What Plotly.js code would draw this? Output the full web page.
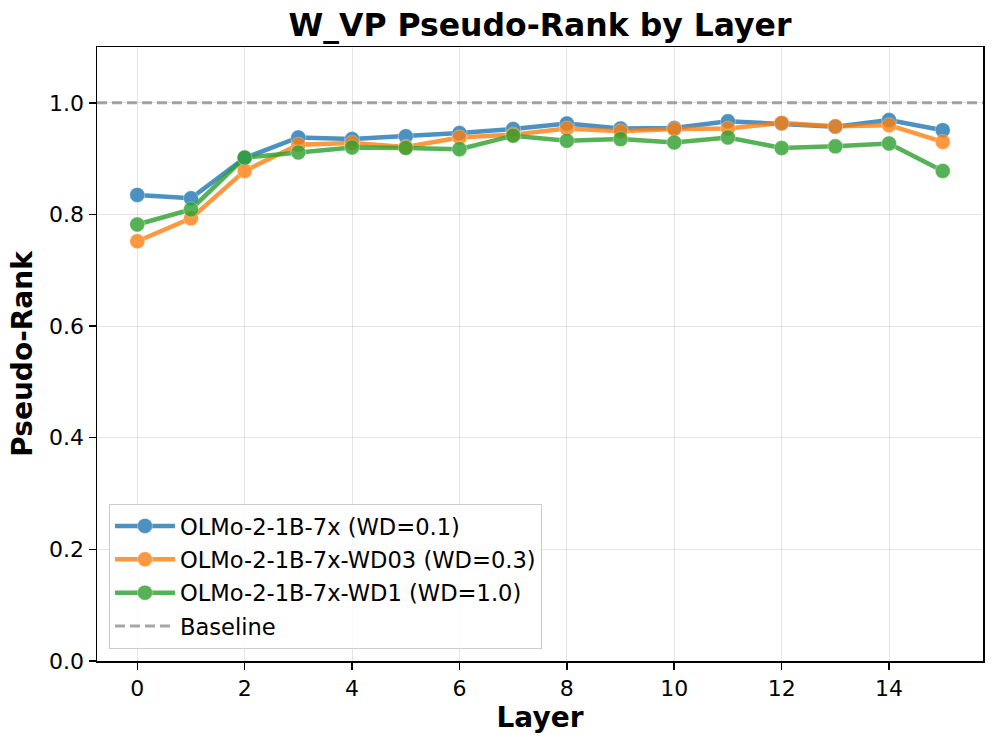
<!DOCTYPE html>
<html>
<head>
<meta charset="utf-8">
<script src="https://cdn.plot.ly/plotly-3.0.1.min.js"></script>
<style>html,body{margin:0;padding:0;background:#fff;}#chart{width:996px;height:744px;}</style>
</head>
<body>
<div id="chart"></div>
<script>
const layers = [0,1,2,3,4,5,6,7,8,9,10,11,12,13,14,15];
const wd01 = [0.835,0.829,0.901,0.938,0.935,0.940,0.946,0.953,0.963,0.954,0.955,0.967,0.963,0.957,0.969,0.951];
const wd03 = [0.752,0.793,0.878,0.925,0.928,0.921,0.938,0.943,0.954,0.949,0.953,0.954,0.964,0.958,0.960,0.930];
const wd1  = [0.782,0.809,0.902,0.911,0.920,0.919,0.917,0.941,0.932,0.935,0.929,0.938,0.919,0.922,0.927,0.878];
const baseline = 1.0;
const names = ['OLMo-2-1B-7x (WD=0.1)','OLMo-2-1B-7x-WD03 (WD=0.3)','OLMo-2-1B-7x-WD1 (WD=1.0)'];
const colors = ['#1f77b4','#ff7f0e','#2ca02c'];
const series = [wd01, wd03, wd1];

const traces = series.map((ys,i)=>({
  x: layers, y: ys, type:'scatter', mode:'lines+markers', name:names[i],
  legendgroup:'g'+i, opacity:0.8,
  line:{color:colors[i], width:4.5},
  marker:{color:colors[i], size:15, line:{color:'rgba(255,255,255,0.35)', width:1}}
}));
traces.push({
  x:[null], y:[null], type:'scatter', mode:'lines', name:'Baseline', legendgroup:'g3',
  line:{color:'rgba(128,128,128,0.7)', width:3, dash:'10px,5px'}
});

const font = 'DejaVu Sans, sans-serif';
const layout = {
  width:996, height:744,
  margin:{l:97, r:13, t:47, b:83},
  paper_bgcolor:'#fff', plot_bgcolor:'#fff',
  font:{family:font, size:22, color:'#000'},
  title:{text:'<b>W_VP Pseudo-Rank by Layer</b>', xref:'paper', x:0.5, xanchor:'center', y:0.966, yanchor:'middle', font:{size:31.5}},
  xaxis:{
    range:[-0.75,15.75], tickvals:[0,2,4,6,8,10,12,14], ticks:'outside', ticklen:7, tickwidth:1.5, tickcolor:'#000',
    showline:true, linecolor:'#000', linewidth:1.5, mirror:true,
    showgrid:true, gridcolor:'rgba(0,0,0,0.1)', gridwidth:1, zeroline:false,
    title:{text:'<b>Layer</b>', font:{size:28}, standoff:4}, tickfont:{size:22}
  },
  yaxis:{
    range:[0,1.1], tickvals:[0,0.2,0.4,0.6,0.8,1.0], tickformat:'.1f', ticks:'outside', ticklen:7, tickwidth:1.5, tickcolor:'#000',
    showline:true, linecolor:'#000', linewidth:1.5, mirror:true,
    showgrid:true, gridcolor:'rgba(0,0,0,0.1)', gridwidth:1, zeroline:false,
    title:{text:'<b>Pseudo-Rank</b>', font:{size:28}, standoff:8}, tickfont:{size:22}
  },
  shapes:[{type:'line', xref:'paper', x0:0, x1:1, yref:'y', y0:baseline, y1:baseline,
    line:{color:'rgba(128,128,128,0.7)', width:3, dash:'10px,5px'}}],
  legend:{
    x:0.0135, y:0.02, xanchor:'left', yanchor:'bottom',
    bgcolor:'rgba(255,255,255,0.8)', bordercolor:'#ccc', borderwidth:1,
    font:{size:22.6}, traceorder:'grouped', tracegroupgap:1, itemwidth:60
  },
  showlegend:true
};
Plotly.newPlot('chart', traces, layout, {staticPlot:true});
</script>
</body>
</html>
